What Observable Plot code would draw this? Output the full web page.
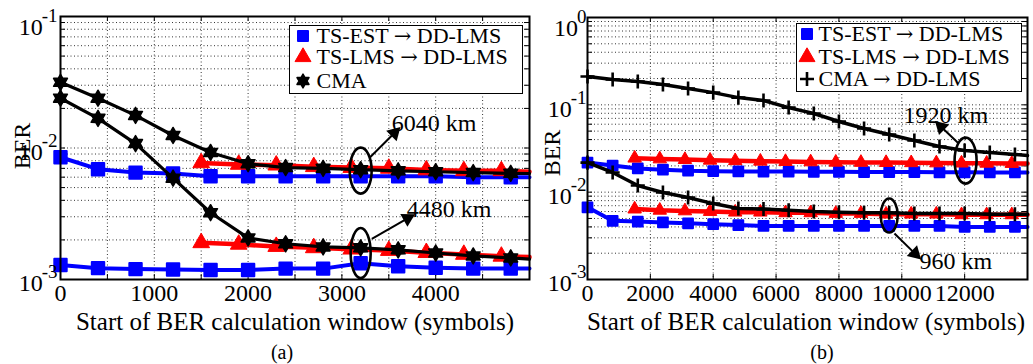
<!DOCTYPE html>
<html><head><meta charset="utf-8">
<script src="https://cdn.jsdelivr.net/npm/d3@7"></script>
<script src="https://cdn.jsdelivr.net/npm/@observablehq/plot@0.6"></script>
<style>
body{margin:0;background:#fff;}
#wrap{position:relative;width:1033px;height:364px;overflow:hidden;font-family:'Liberation Serif','Times New Roman',serif;color:#000;background:#fff;}
#wrap > svg{position:absolute;top:0;}
.lbl{position:absolute;white-space:nowrap;transform:translate(-50%,-50%);line-height:1;}
.legend{position:absolute;background:#fff;border:1.5px solid #000;box-sizing:border-box;}
.row{position:absolute;height:20px;line-height:20px;font-size:22px;white-space:nowrap;}
.row svg{position:absolute;top:0px;}
.row span.t{position:absolute;top:0;height:20px;line-height:20px;}
.arr{font-family:'DejaVu Serif',serif;font-size:21px;line-height:1;}
</style></head><body><div id="wrap"></div>
<script>
// ---------------- Panel (a) data ----------------
const xA = [0,400,800,1200,1600,2000,2400,2800,3200,3600,4000,4400,4800,5000];
const estA6040 = [0.0085,0.0069,0.0065,0.0064,0.0061,0.0061,0.0061,0.0061,0.0061,0.0061,0.0061,0.0060,0.0060,0.0060];
const estA4480 = [0.00129,0.00122,0.00120,0.00119,0.00118,0.00118,0.00121,0.00121,0.00133,0.00126,0.00123,0.00121,0.00121,0.00121];
const cmaA6040 = [0.0316,0.0239,0.0177,0.01245,0.00925,0.0076,0.0071,0.0070,0.00684,0.0067,0.0066,0.0065,0.00642,0.0064];
const cmaA4480 = [0.0239,0.0168,0.0108,0.0059,0.00322,0.00207,0.00187,0.00177,0.00174,0.00168,0.00159,0.00151,0.00146,0.00143];
const xA_lms = [1500,1900,2300,2700,3100,3500,3900,4300,4700,5000];
const lmsA6040 = [0.0077,0.0075,0.0074,0.0072,0.0071,0.0070,0.0068,0.0067,0.0067,0.0066];
const lmsA4480 = [0.0019,0.00185,0.00178,0.00174,0.0017,0.00166,0.0016,0.00155,0.0015,0.00148];
const xTicksA = [0,1000,2000,3000,4000];
const yTicksA = [1e-3,1e-2,1e-1];
const legendA = [["TS-EST","DD-LMS"],["TS-LMS","DD-LMS"],["CMA",null]];

// ---------------- Panel (b) data ----------------
const xB = [0,800,1600,2400,3200,4000,4800,5600,6400,7200,8000,8800,9600,10400,11200,12000,12800,13600,14000];
const estB1920 = [0.0218,0.0202,0.0187,0.0181,0.0176,0.0174,0.0173,0.0172,0.0172,0.0171,0.0171,0.0170,0.0170,0.0170,0.0169,0.0169,0.0168,0.0168,0.0168];
const estB960  = [0.0067,0.0047,0.0046,0.0045,0.0044,0.0043,0.0042,0.0041,0.0041,0.0041,0.0041,0.0041,0.0041,0.0041,0.0041,0.0040,0.0040,0.0040,0.0040];
const cmaB1920 = [0.211,0.195,0.185,0.171,0.154,0.138,0.121,0.112,0.093,0.0795,0.0644,0.0535,0.0457,0.039,0.0333,0.030,0.0284,0.027,0.0263];
const cmaB960  = [0.0218,0.0168,0.0119,0.0099,0.0087,0.0074,0.0065,0.0064,0.0062,0.0060,0.0059,0.0058,0.0058,0.0057,0.0057,0.0057,0.0056,0.0056,0.0056];
const xB_lms = [1500,2300,3100,3900,4700,5500,6300,7100,7900,8700,9500,10300,11100,11900,12700,13500,14000];
const lmsB1920 = [0.0245,0.0240,0.0236,0.0232,0.0229,0.0226,0.0224,0.0222,0.0220,0.0219,0.0218,0.0217,0.0216,0.0215,0.0214,0.0213,0.0213];
const lmsB960  = [0.0064,0.0062,0.0061,0.0060,0.0059,0.0059,0.0058,0.0058,0.0057,0.0057,0.0056,0.0056,0.0056,0.0055,0.0055,0.0055,0.0055];
const xTicksB = [0,2000,4000,6000,8000,10000,12000];
const yTicksB = [1e-3,1e-2,1e-1,1];
const legendB = [["TS-EST","DD-LMS"],["TS-LMS","DD-LMS"],["CMA","DD-LMS"]];

// ---------------- annotations ----------------
const annA = {
  labels: [{x:3532,y:0.0154,text:"6040 km"},{x:3691,y:0.0034,text:"4480 km"}],
  ellipses: [{x:3200,y:0.00673,rx:11,ry:23},{x:3200,y:0.00159,rx:10,ry:25}],
  arrows: [{x1:3298,y1:0.00846,x2:3560,y2:0.0130,angle:45},{x1:3319,y1:0.00204,x2:3700,y2:0.00292,angle:61}]
};
const annB = {
  labels: [{x:10054,y:0.0754,text:"1920 km"},{x:10565,y:0.0016,text:"960 km"}],
  ellipses: [{x:12030,y:0.023,rx:11,ry:23},{x:9600,y:0.0054,rx:8.5,ry:17}],
  arrows: [{x1:11810,y1:0.036,x2:11250,y2:0.056,angle:-46},{x1:9767,y1:0.00336,x2:10420,y2:0.00198,angle:134}]
};

const C = {est:"#0000ff", lms:"#ff0000", cma:"#000000"};
const rows = (xs, ys) => xs.map((x,i) => ({x, y: ys[i]}));

const hexagram = {draw(ctx, size){
  const R = Math.sqrt(size/Math.PI), r = R*0.58;
  for (let i=0;i<12;i++){const a=-Math.PI/2+i*Math.PI/6, q=i%2?r:R;
    const px=q*Math.cos(a), py=q*Math.sin(a); if(i===0) ctx.moveTo(px,py); else ctx.lineTo(px,py);}
  ctx.closePath();
}};
function ellipseSym(rx, ry){ const k=0.5523; return {draw(ctx){
  ctx.moveTo(rx,0);
  ctx.bezierCurveTo(rx,k*ry,k*rx,ry,0,ry);
  ctx.bezierCurveTo(-k*rx,ry,-rx,k*ry,-rx,0);
  ctx.bezierCurveTo(-rx,-k*ry,-k*rx,-ry,0,-ry);
  ctx.bezierCurveTo(k*rx,-ry,rx,-k*ry,rx,0);
  ctx.closePath();
}};}

function logGrid(lo, hi){ const g=[]; for(let e=lo;e<hi;e++) for(let m=1;m<10;m++) g.push(m*Math.pow(10,e)); g.push(Math.pow(10,hi)); return g; }

function buildPanel(cfg){
  const fw = cfg.width-cfg.ml-cfg.mr, fh = cfg.height-cfg.mt-cfg.mb;
  const gridStyle = {stroke:"#000", strokeOpacity:0.8, strokeDasharray:"1,2.5", strokeWidth:1};
  const marks = [
    Plot.gridX(cfg.xGrid, gridStyle),
    Plot.gridY(cfg.yGrid, gridStyle),
    Plot.tickX(cfg.xGrid, {x:d=>d, insetTop:fh-5, stroke:"#000"}),
    Plot.tickX(cfg.xGrid, {x:d=>d, insetBottom:fh-5, stroke:"#000"}),
    Plot.tickY(cfg.yGrid, {y:d=>d, insetRight:fw-5, stroke:"#000"}),
    Plot.tickY(cfg.yGrid, {y:d=>d, insetLeft:fw-5, stroke:"#000"})
  ];
  const mk = d => d.x <= cfg.markMax;
  for (const s of cfg.est) marks.push(
    Plot.line(s, {x:"x", y:"y", stroke:C.est, strokeWidth:4}),
    Plot.dot(s.filter(mk), {x:"x", y:"y", symbol:"square", r:cfg.sq, fill:C.est, stroke:C.est, strokeWidth:2, strokeLinejoin:"round"}));
  for (const s of cfg.lms) marks.push(
    Plot.line(s, {x:"x", y:"y", stroke:C.lms, strokeWidth:4.5}),
    Plot.dot(s.filter(mk), {x:"x", y:"y", symbol:"triangle", r:cfg.tri, fill:C.lms, stroke:C.lms, strokeWidth:1, strokeLinejoin:"round"}));
  for (const s of cfg.cma) marks.push(
    Plot.line(s, {x:"x", y:"y", stroke:C.cma, strokeWidth:cfg.cmaW}),
    cfg.cmaPlus
      ? Plot.dot(s.filter(mk), {x:"x", y:"y", symbol:"plus", r:cfg.cmaR, stroke:C.cma, strokeWidth:2.6})
      : Plot.dot(s.filter(mk), {x:"x", y:"y", symbol:hexagram, r:cfg.cmaR, fill:C.cma, stroke:C.cma, strokeWidth:1.5, strokeLinejoin:"round"}));
  const a = cfg.ann;
  for (const e of a.ellipses) marks.push(Plot.dot([e], {x:"x", y:"y", symbol:ellipseSym(e.rx,e.ry), r:5, fill:"none", stroke:"#000", strokeWidth:2.6}));
  marks.push(Plot.link(a.arrows, {x1:"x1", y1:"y1", x2:"x2", y2:"y2", stroke:"#000", strokeWidth:2}));
  marks.push(Plot.dot(a.arrows, {x:"x2", y:"y2", symbol:"triangle", r:5.5, fill:"#000", rotate:"angle"}));
  marks.push(Plot.text(a.labels, {x:"x", y:"y", text:"text", textAnchor:"start", fontSize:24}));
  marks.push(Plot.frame({stroke:"#000", strokeWidth:2}));
  marks.push(Plot.axisX({ticks:cfg.xTicks, tickSize:0, tickPadding:4, label:null, tickFormat:d=>String(d)}));
  marks.push(Plot.axisY({ticks:cfg.yTicks, tickSize:0, tickPadding:cfg.yPad, label:null, tickFormat:d=>"10^"+Math.round(Math.log10(d))}));
  const svg = Plot.plot({
    width:cfg.width, height:cfg.height, marginLeft:cfg.ml, marginRight:cfg.mr, marginTop:cfg.mt, marginBottom:cfg.mb,
    style:{fontFamily:"'Liberation Serif','Times New Roman',serif", fontSize:"24px", background:"transparent", color:"#000", overflow:"visible"},
    x:{domain:cfg.xDomain}, y:{type:"log", domain:cfg.yDomain},
    marks
  });
  const topExp = Math.round(Math.log10(cfg.yDomain[1]));
  d3.select(svg).selectAll('g[aria-label="y-axis tick label"] text').each(function(){
    const t = this.textContent; const [b,e] = t.split("^");
    const sel = d3.select(this); sel.text(null);
    sel.append("tspan").attr("dy", (+e===topExp) ? 11 : 4).text(b);
    sel.append("tspan").attr("dx", -1).attr("dy", -13).attr("font-size", 19).text(e);
  });
  svg.style.left = cfg.left + "px";
  return svg;
}

const wrap = document.getElementById("wrap");
const svgA = buildPanel({
  left:0, width:540, height:340, ml:60, mr:11, mt:16, mb:61,
  xDomain:[0,5000], yDomain:[1e-3,1e-1], xTicks:xTicksA, yTicks:yTicksA, yPad:3,
  xGrid:d3.range(500,5000,500), yGrid:logGrid(-3,-1),
  est:[rows(xA,estA6040), rows(xA,estA4480)],
  lms:[rows(xA_lms,lmsA6040), rows(xA_lms,lmsA4480)],
  cma:[rows(xA,cmaA6040), rows(xA,cmaA4480)],
  markMax:4800, sq:7, tri:6.2, cmaR:8, cmaW:3.2, cmaPlus:false, ann:annA
});
const svgB = buildPanel({
  left:520, width:513, height:340, ml:67, mr:6, mt:17, mb:61,
  xDomain:[0,14000], yDomain:[1e-3,1], xTicks:xTicksB, yTicks:yTicksB, yPad:1,
  xGrid:d3.range(2000,14000,2000), yGrid:logGrid(-3,0),
  est:[rows(xB,estB1920), rows(xB,estB960)],
  lms:[rows(xB_lms,lmsB1920), rows(xB_lms,lmsB960)],
  cma:[rows(xB,cmaB1920), rows(xB,cmaB960)],
  markMax:13600, sq:5.5, tri:5, cmaR:4.6, cmaW:3.5, cmaPlus:true, ann:annB
});
wrap.appendChild(svgA); wrap.appendChild(svgB);

function lbl(text, x, y, size, rot){
  const d = document.createElement("div"); d.className="lbl"; d.textContent=text;
  d.style.left=x+"px"; d.style.top=y+"px"; d.style.fontSize=size+"px";
  if (rot) d.style.transform="translate(-50%,-50%) rotate(-90deg)";
  wrap.appendChild(d);
}
lbl("BER", 22, 146, 24, true);
lbl("BER", 552, 153, 24, true);
lbl("Start of BER calculation window (symbols)", 295, 321, 25);
lbl("Start of BER calculation window (symbols)", 806, 321, 25);
lbl("(a)", 282, 352, 20);
lbl("(b)", 822, 352, 20);

function legend(names, box, rowsY, markX, textX, cmaPlus){
  const L = document.createElement("div"); L.className="legend";
  Object.assign(L.style, {left:box[0]+"px", top:box[1]+"px", width:(box[2]-box[0])+"px", height:(box[3]-box[1])+"px"});
  const syms = [
    {p:d3.symbol(d3.symbolSquare, 100)(), fill:C.est, stroke:C.est, sw:2},
    {p:d3.symbol(d3.symbolTriangle, 110)(), fill:C.lms, stroke:C.lms, sw:1},
    cmaPlus ? {p:d3.symbol(d3.symbolPlus, 66)(), fill:"none", stroke:"#000", sw:2.6}
            : {p:d3.symbol(hexagram, 150)(), fill:"#000", stroke:"#000", sw:1.5}
  ];
  names.forEach((n,i)=>{
    const r = document.createElement("div"); r.className="row";
    r.style.left="0px"; r.style.top=(rowsY[i]-box[1]-10-1.5)+"px";
    const label = n[1] ? `${n[0]} <span class="arr">\u2192</span> ${n[1]}` : n[0];
    r.innerHTML = `<svg width="20" height="20" style="left:${markX-box[0]-10-1.5}px" viewBox="-10 -10 20 20"><path d="${syms[i].p}" fill="${syms[i].fill}" stroke="${syms[i].stroke}" stroke-width="${syms[i].sw}" stroke-linejoin="round"/></svg><span class="t" style="left:${textX-box[0]-1.5}px">${label}</span>`;
    L.appendChild(r);
  });
  wrap.appendChild(L);
}
legend(legendA, [289,25,523,94], [36,57.5,81], 303, 317, false);
legend(legendB, [796,23,1022,92], [34.5,57,79.5], 807, 819, true);
</script></body></html>
